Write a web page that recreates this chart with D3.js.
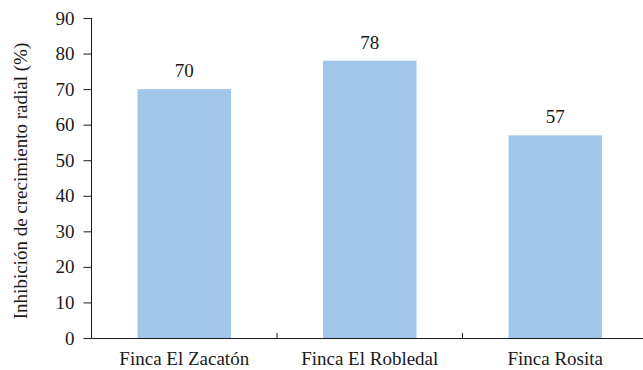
<!DOCTYPE html>
<html>
<head>
<meta charset="utf-8">
<script src="https://cdn.jsdelivr.net/npm/d3@7"></script>
<style>
  html, body { margin: 0; padding: 0; background: #fff; }
</style>
</head>
<body>
<svg id="chart" width="643" height="370"></svg>
<script>
// Radial growth inhibition per farm
const categories = ["Finca El Zacatón", "Finca El Robledal", "Finca Rosita"];
const values = [70, 78, 57];
const yTicks = [0, 10, 20, 30, 40, 50, 60, 70, 80, 90];
const yTitle = "Inhibición de crecimiento radial (%)";

const INK = "#1a1a1a";

const svg = d3.select("#chart");
const plotLeft = 91.5, plotRight = 648, plotTop = 18, plotBottom = 338;

const x = d3.scaleBand().domain(categories).range([plotLeft, plotRight]).paddingInner(0.496).paddingOuter(0.248);
const band = d3.scaleBand().domain(categories).range([plotLeft, plotRight]);
const y = d3.scaleLinear().domain([0, 90]).range([plotBottom, plotTop]);

const setFont = sel => sel.attr("font-size", 19).style("font-family", "Liberation Serif").style("fill", INK);

// Bars
svg.append("g").selectAll("rect").data(values).join("rect")
  .attr("x", (d, i) => x(categories[i]))
  .attr("y", d => y(d))
  .attr("width", x.bandwidth())
  .attr("height", d => y(0) - y(d))
  .attr("fill", "#a2c6ea");

// Value labels
svg.append("g").selectAll("text").data(values).join("text")
  .attr("x", (d, i) => x(categories[i]) + x.bandwidth() / 2)
  .attr("y", d => y(d) - 12)
  .attr("text-anchor", "middle")
  .call(setFont)
  .text(d => d);

// Y axis
const yAxis = svg.append("g").attr("transform", `translate(${plotLeft},0)`)
  .call(d3.axisLeft(y).tickValues(yTicks).tickSize(8).tickPadding(9));
yAxis.attr("font-family", null).attr("font-size", null);
yAxis.selectAll("text").call(setFont);
yAxis.selectAll("line, path").attr("stroke", INK).attr("stroke-width", 1);
yAxis.select(".domain").attr("d", `M0,${plotTop}V${plotBottom}`);

// X axis line with inward tick marks between categories
svg.append("line").attr("x1", plotLeft).attr("x2", 643).attr("y1", plotBottom + 0.5).attr("y2", plotBottom + 0.5)
  .attr("stroke", INK);
svg.append("g").selectAll("line").data(categories.slice(1)).join("line")
  .attr("x1", d => band(d)).attr("x2", d => band(d))
  .attr("y1", plotBottom).attr("y2", plotBottom - 5)
  .attr("stroke", INK);

// Category labels
svg.append("g").selectAll("text").data(categories).join("text")
  .attr("x", d => x(d) + x.bandwidth() / 2)
  .attr("y", 365)
  .attr("text-anchor", "middle")
  .call(setFont)
  .text(d => d);

// Y axis title
svg.append("text")
  .attr("transform", `translate(27,${(plotTop + plotBottom) / 2 + 3}) rotate(-90)`)
  .attr("text-anchor", "middle")
  .call(setFont)
  .text(yTitle);
</script>
</body>
</html>
